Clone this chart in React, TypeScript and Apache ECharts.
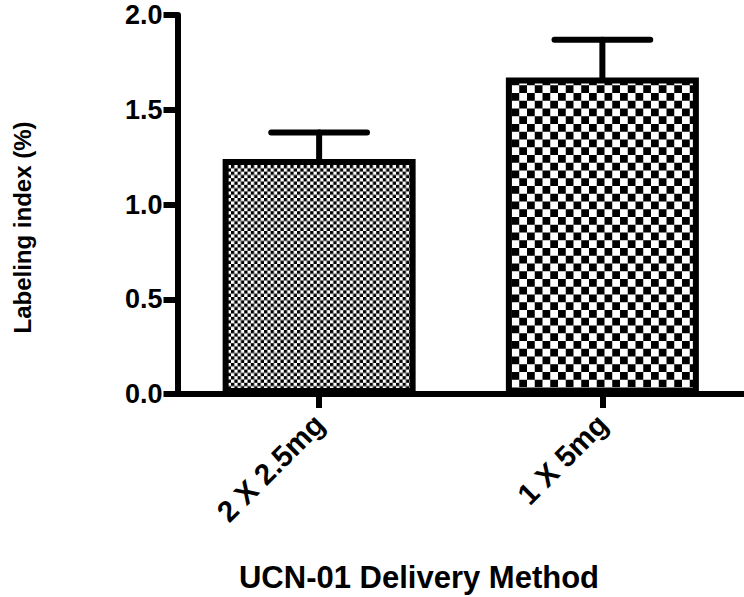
import React, { useEffect, useRef } from "react";
import * as echarts from "echarts";

const categories = ["2 X 2.5mg", "1 X 5mg"];
const means = [1.24, 1.67];
const errors = [0.14, 0.2];
const checkerCells = [3.3, 7.75];
const yTicks = [0, 0.5, 1.0, 1.5, 2.0];
const xTitle = "UCN-01 Delivery Method";
const yTitle = "Labeling index (%)";

function checkerPattern(cell: number) {
  const base = 10;
  const c = document.createElement("canvas");
  c.width = base * 2;
  c.height = base * 2;
  const ctx = c.getContext("2d")!;
  ctx.fillStyle = "#ffffff";
  ctx.fillRect(0, 0, base * 2, base * 2);
  ctx.fillStyle = "#000000";
  ctx.fillRect(0, 0, base, base);
  ctx.fillRect(base, base, base, base);
  return {
    image: c.toDataURL(),
    repeat: "repeat",
    scaleX: cell / base,
    scaleY: cell / base,
  } as any;
}

export default function App() {
  const ref = useRef<HTMLDivElement>(null);
  useEffect(() => {
    if (!ref.current) return;
    const chart = echarts.init(ref.current, undefined, { renderer: "svg" });
    const font = "Arial, 'Liberation Sans', sans-serif";
    const lw = 6;
    const option: any = {
      animation: false,
      grid: { left: 177.5, right: 0, top: 15, bottom: 203 },
      xAxis: {
        type: "category",
        data: categories,
        axisLine: { show: true, lineStyle: { color: "#000", width: lw } },
        axisTick: { show: true, alignWithLabel: true, length: 14, lineStyle: { color: "#000", width: lw } },
        axisLabel: {
          rotate: 45,
          margin: 25,
          color: "#000",
          fontSize: 29.5,
          fontWeight: "bold",
          fontFamily: font,
        },
      },
      yAxis: {
        type: "value",
        min: yTicks[0],
        max: yTicks[yTicks.length - 1],
        interval: 0.5,
        splitLine: { show: false },
        axisLine: { show: true, onZero: false, lineStyle: { color: "#000", width: lw } },
        axisTick: { show: true, length: 14, lineStyle: { color: "#000", width: lw } },
        axisLabel: {
          margin: 15,
          color: "#000",
          fontSize: 27,
          fontWeight: "bold",
          fontFamily: font,
          formatter: (v: number) => v.toFixed(1),
        },
        name: yTitle,
        nameLocation: "middle",
        nameGap: 143,
        nameTextStyle: {
          color: "#000",
          fontSize: 24,
          fontWeight: "bold",
          fontFamily: font,
          padding: [0, 46, 0, 0],
        },
      },
      title: {
        text: xTitle,
        left: 414,
        top: 557,
        textAlign: "center",
        textStyle: { color: "#000", fontSize: 31, fontWeight: "bold", fontFamily: font },
      },
      series: [
        {
          type: "bar",
          barWidth: 193,
          z: 2,
          data: means.map((v, i) => ({
            value: v,
            itemStyle: {
              color: checkerPattern(checkerCells[i]),
              borderColor: "#000",
              borderWidth: lw,
            },
          })),
        },
        {
          type: "custom",
          z: 3,
          data: means.map((v, i) => [i, v, errors[i]]),
          encode: { x: 0, y: 1 },
          renderItem: (params: any, api: any) => {
            const xi = api.value(0);
            const m = api.value(1);
            const e = api.value(2);
            const base = api.coord([xi, m]);
            const top = api.coord([xi, m + e]);
            const half = api.size([1, 0])[0] * 0.169;
            const style = { stroke: "#000", lineWidth: lw, lineCap: "round" };
            return {
              type: "group",
              children: [
                { type: "line", shape: { x1: base[0], y1: base[1], x2: top[0], y2: top[1] }, style },
                { type: "line", shape: { x1: top[0] - half, y1: top[1], x2: top[0] + half, y2: top[1] }, style },
              ],
            };
          },
        },
      ],
    };
    chart.setOption(option);
    return () => chart.dispose();
  }, []);
  return (
    <div
      ref={ref}
      style={{ position: "fixed", left: 0, top: 0, width: 744, height: 597, background: "#fff" }}
    />
  );
}
